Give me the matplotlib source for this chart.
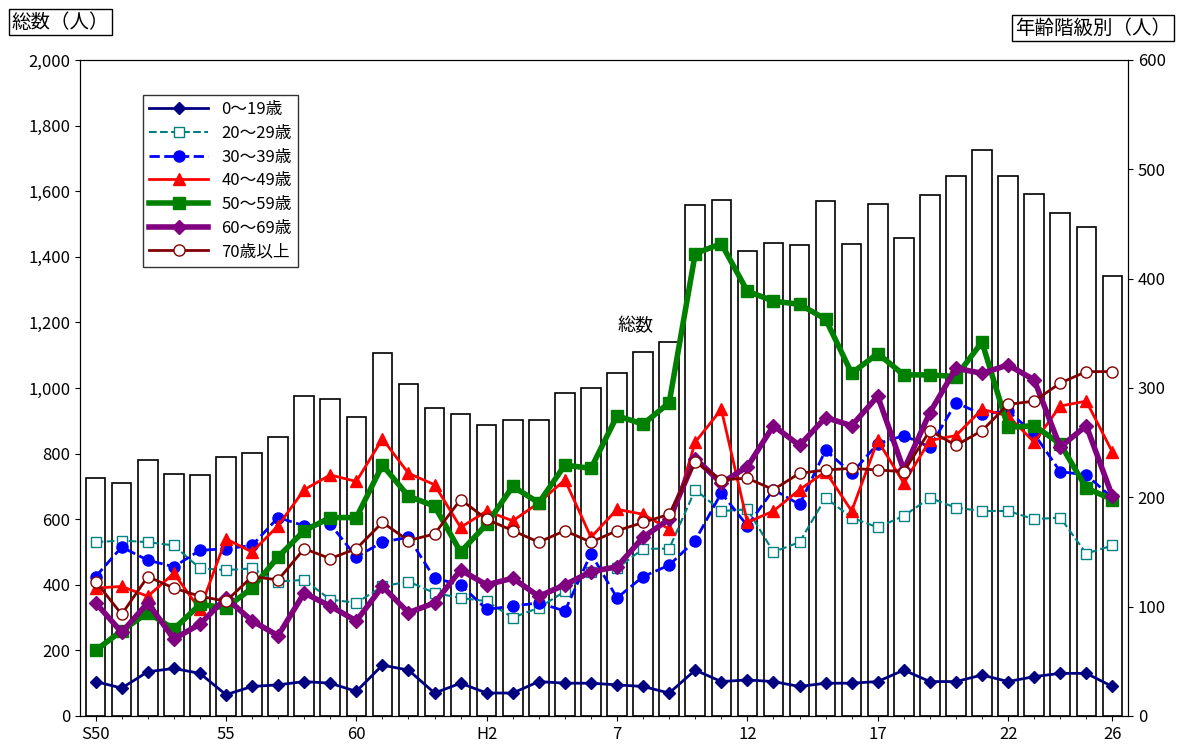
import matplotlib.pyplot as plt
import numpy as np
from matplotlib.ticker import FuncFormatter, MultipleLocator

plt.rcParams['font.family'] = ['Noto Sans CJK JP', 'DejaVu Sans']

years = list(range(40))  # S50 .. H26
xlabels = {0: "S50", 5: "55", 10: "60", 15: "H2", 20: "7", 25: "12", 30: "17", 35: "22", 39: "26"}

total = [726, 710, 780, 738, 735, 790, 802, 850, 975, 966, 912, 1107, 1012, 939, 920, 887, 902, 902, 985, 1000,
         1046, 1110, 1140, 1558, 1573, 1418, 1442, 1436, 1570, 1439, 1561, 1457, 1588, 1646, 1726, 1646, 1591, 1534, 1491, 1341]

# age groups (read on the left scale, converted to right scale below)
a0 = [105, 85, 135, 145, 130, 65, 90, 95, 105, 100, 75, 155, 140, 70, 100, 70, 70, 105, 100, 100,
      95, 90, 70, 140, 105, 110, 105, 90, 100, 100, 105, 140, 105, 105, 125, 105, 120, 130, 130, 90]
a20 = [530, 535, 530, 520, 450, 445, 450, 410, 415, 355, 345, 395, 410, 375, 360, 350, 300, 330, 380, 440,
       450, 510, 510, 690, 625, 630, 500, 530, 665, 605, 575, 610, 665, 635, 625, 625, 600, 605, 495, 520]
a30 = [425, 515, 475, 455, 505, 510, 520, 605, 580, 585, 485, 530, 545, 420, 400, 325, 335, 345, 320, 495,
       360, 425, 460, 535, 680, 580, 690, 645, 810, 740, 830, 855, 820, 955, 920, 930, 860, 745, 735, 665]
a40 = [390, 395, 365, 435, 325, 540, 500, 580, 690, 735, 715, 845, 740, 705, 575, 625, 595, 650, 720, 545,
       630, 615, 570, 835, 935, 590, 625, 690, 745, 625, 840, 710, 840, 855, 935, 915, 835, 945, 960, 805]
a50 = [200, 260, 315, 265, 340, 330, 390, 485, 565, 605, 605, 765, 670, 640, 500, 585, 700, 650, 765, 755,
       915, 890, 955, 1410, 1440, 1295, 1265, 1255, 1210, 1045, 1105, 1040, 1040, 1035, 1140, 880, 885, 830, 695, 660]
a60 = [345, 255, 345, 235, 280, 360, 290, 245, 375, 335, 290, 395, 315, 345, 445, 400, 420, 365, 400, 440,
       455, 545, 600, 785, 710, 760, 885, 825, 910, 885, 975, 750, 925, 1060, 1045, 1070, 1025, 820, 885, 670]
a70 = [410, 310, 425, 390, 365, 350, 425, 415, 510, 480, 510, 590, 535, 555, 660, 600, 565, 530, 565, 530,
       565, 590, 615, 775, 720, 725, 690, 740, 750, 755, 750, 745, 870, 825, 870, 950, 960, 1015, 1050, 1050]

fig = plt.figure(figsize=(11.83, 7.54), dpi=100)
ax = fig.add_axes([80/1183, 38/754, 1048/1183, 656/754])
ax.bar(years, total, width=0.75, color="white", edgecolor="black", linewidth=1.2, zorder=1)
ax.set_ylim(0, 2000)
ax.set_xlim(-0.6, 39.6)
ax.yaxis.set_major_locator(MultipleLocator(200))
ax.yaxis.set_major_formatter(FuncFormatter(lambda v, p: f"{int(v):,}"))
ax.set_xticks(list(xlabels.keys()))
ax.set_xticklabels(list(xlabels.values()))
ax.set_xticks(years, minor=True)
ax.tick_params(labelsize=12)
ax.text(20.0, 1175, "総数", fontsize=13)

ax2 = ax.twinx()
ax2.set_ylim(0, 600)
ax2.yaxis.set_major_locator(MultipleLocator(100))
ax2.tick_params(labelsize=12)

series = [
    (a0, "0～19歳", dict(color="#000080", ls="-", marker="D", ms=6, lw=2, mfc="#000080")),
    (a20, "20～29歳", dict(color="#008080", ls="--", marker="s", ms=7, lw=1.5, mfc="white")),
    (a30, "30～39歳", dict(color="#0000FF", ls="--", marker="o", ms=8, lw=2, mfc="#0000FF")),
    (a40, "40～49歳", dict(color="#FF0000", ls="-", marker="^", ms=8, lw=2, mfc="#FF0000")),
    (a50, "50～59歳", dict(color="#008000", ls="-", marker="s", ms=8, lw=4, mfc="#008000")),
    (a60, "60～69歳", dict(color="#800080", ls="-", marker="D", ms=7, lw=4, mfc="#800080")),
    (a70, "70歳以上", dict(color="#800000", ls="-", marker="o", ms=8, lw=2, mfc="white")),
]
for vals, lab, st in series:
    ax2.plot(years, np.array(vals) * 0.3, label=lab, zorder=3, **st)

leg = ax2.legend(loc="upper left", bbox_to_anchor=(0.052, 0.96), fontsize=12, frameon=True,
                 fancybox=False, edgecolor="black", handlelength=3.5, borderpad=0.4, labelspacing=0.4)

fig.text(12/1183, 1 - 22/754, "総数（人）", fontsize=14, va="center",
         bbox=dict(facecolor="white", edgecolor="black", pad=2))
fig.text(1171/1183, 1 - 28/754, "年齢階級別（人）", fontsize=14, va="center", ha="right",
         bbox=dict(facecolor="white", edgecolor="black", pad=2))

fig.savefig("out.png", dpi=100)
